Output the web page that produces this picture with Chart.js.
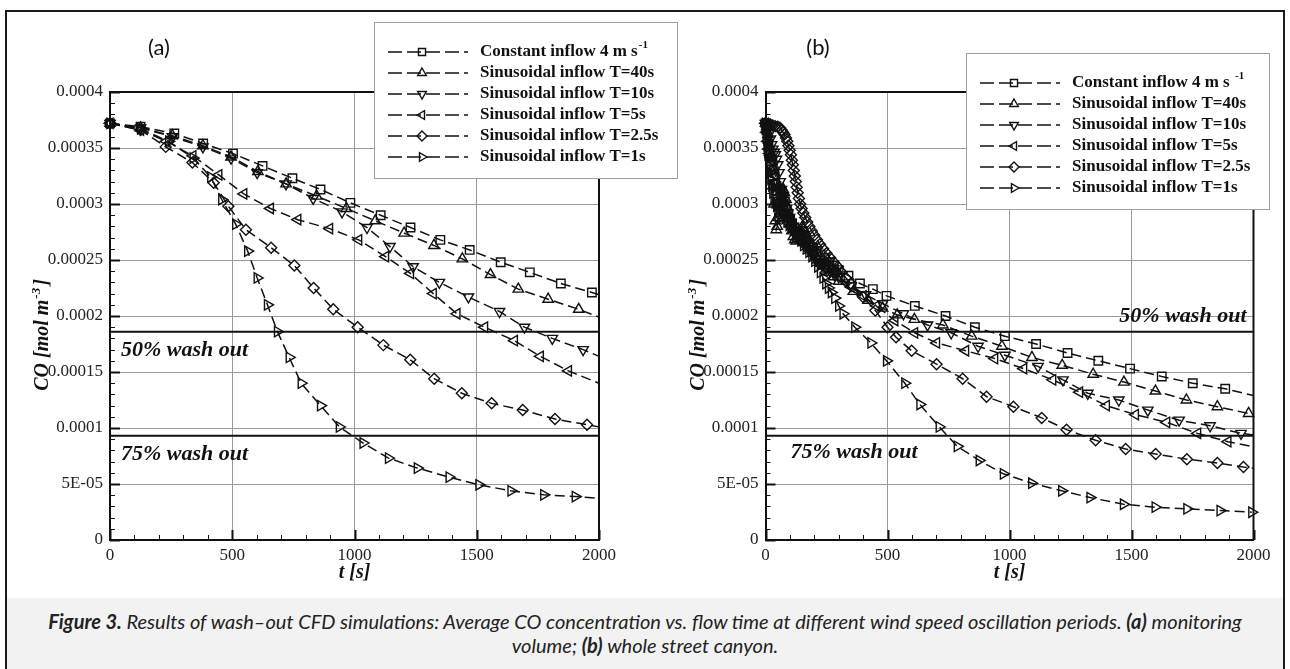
<!DOCTYPE html>
<html>
<head>
<meta charset="utf-8">
<script src="https://cdn.jsdelivr.net/npm/chart.js@4.4.1/dist/chart.umd.min.js"></script>
<style>
  body { margin: 0; width: 1290px; height: 669px; overflow: hidden; position: relative; background: #fff; }
  #frame { position: absolute; left: 5px; top: 10px; width: 1276px; height: 700px; border: 2px solid #1a1a1a; }
  #caption { position: absolute; left: 7px; top: 598px; width: 1276px; height: 80px; background: #f2f2f2; }
  #captionText { position: absolute; left: 7px; top: 609px; width: 1276px; text-align: center;
    font-family: Lato, "Open Sans", sans-serif; font-style: italic; font-size: 20px; line-height: 24px; color: #222; }
  .panelTag { position: absolute; top: 46px; transform: translate(-50%, -50%);
    font-family: Lato, "Open Sans", sans-serif; font-size: 22px; color: #111; }
  canvas { position: absolute; top: 0; }
  #chartA { left: 0; }
  #chartB { left: 640px; }
</style>
</head>
<body>
<div id="frame"></div>
<div id="caption"></div>
<div id="captionText"><b>Figure 3.</b> Results of wash–out CFD simulations: Average CO concentration vs. flow time at different wind speed oscillation periods. <b>(a)</b> monitoring<br>volume; <b>(b)</b> whole street canyon.</div>
<canvas id="chartA" width="690" height="598"></canvas>
<canvas id="chartB" width="650" height="598"></canvas>
<div class="panelTag" style="left:159px">(a)</div>
<div class="panelTag" style="left:818px">(b)</div>
<script>
// axes
const xTicks = [0, 500, 1000, 1500, 2000];
const yTicks = [0, 0.00005, 0.0001, 0.00015, 0.0002, 0.00025, 0.0003, 0.00035, 0.0004];
const yTickLabels = ['0', '5E-05', '0.0001', '0.00015', '0.0002', '0.00025', '0.0003', '0.00035', '0.0004'];
const xMinorStep = 100;
const yMinorStep = 0.00001;

const seriesLabels = ['Constant inflow 4 m s', 'Sinusoidal inflow T=40s', 'Sinusoidal inflow T=10s',
  'Sinusoidal inflow T=5s', 'Sinusoidal inflow T=2.5s', 'Sinusoidal inflow T=1s'];

// wash-out levels (initial 0.000372)
const wash50 = 0.000186;
const wash75 = 0.000093;

// (a) monitoring volume, [t, CO]
const aConstant = [[0,0.000372],[125,0.000369],[263,0.000363],[381,0.000354],[503,0.000345],[624,0.000334],[746,0.000323],[861,0.000313],[983,0.000301],[1107,0.00029],[1229,0.000279],[1351,0.000268],[1471,0.000259],[1598,0.000248],[1717,0.000239],[1844,0.000229],[1971,0.000221],[2000,0.000219]];
const aT40 = [[0,0.000372],[125,0.000368],[255,0.000361],[380,0.000352],[495,0.000342],[605,0.000329],[720,0.000318],[845,0.000307],[967,0.000296],[1085,0.000285],[1203,0.000274],[1325,0.000263],[1441,0.000251],[1556,0.000237],[1670,0.000224],[1792,0.000215],[1917,0.000206],[2000,0.000199]];
const aT10 = [[0,0.000372],[125,0.000368],[255,0.00036],[380,0.000351],[495,0.000341],[602,0.000328],[720,0.000318],[831,0.000305],[949,0.000293],[1051,0.000279],[1145,0.000262],[1240,0.000244],[1347,0.00023],[1466,0.000217],[1593,0.000204],[1695,0.00019],[1809,0.00018],[1935,0.00017],[2000,0.000164]];
const aT5 = [[0,0.000372],[125,0.000366],[230,0.000356],[339,0.000343],[445,0.000326],[547,0.000309],[656,0.000296],[768,0.000286],[898,0.000278],[1017,0.000268],[1127,0.000253],[1229,0.000238],[1322,0.00022],[1419,0.000202],[1532,0.00019],[1654,0.000178],[1760,0.000164],[1875,0.000151],[2000,0.00014]];
const aT25 = [[0,0.000372],[125,0.000366],[228,0.000351],[337,0.000337],[424,0.000319],[484,0.000298],[556,0.000277],[659,0.000261],[754,0.000245],[833,0.000225],[913,0.000206],[1013,0.00019],[1118,0.000174],[1228,0.000161],[1326,0.000144],[1439,0.000131],[1561,0.000122],[1688,0.000116],[1820,0.000108],[1951,0.000103],[2000,0.000101]];
const aT1 = [[0,0.000372],[125,0.000367],[240,0.000356],[340,0.000341],[412,0.000324],[457,0.000304],[514,0.000282],[563,0.000258],[602,0.000234],[644,0.00021],[685,0.000186],[733,0.000163],[782,0.00014],[861,0.00012],[938,0.000101],[1035,0.0000866],[1139,0.0000731],[1257,0.0000642],[1387,0.0000561],[1509,0.0000493],[1640,0.0000439],[1774,0.0000403],[1903,0.0000388],[2000,0.0000373]];

// (b) whole street canyon, [t, CO]
const bConstant = [[0,0.000372],[4,0.000366],[8,0.000358],[12,0.000351],[16,0.000344],[20,0.000338],[25,0.000331],[30,0.000325],[36,0.000318],[42,0.000312],[48,0.000307],[55,0.000302],[62,0.000298],[70,0.000294],[78,0.000291],[87,0.000288],[96,0.000285],[106,0.000282],[117,0.000279],[128,0.000276],[140,0.000273],[153,0.00027],[166,0.000267],[180,0.000264],[195,0.000261],[210,0.000258],[226,0.000255],[243,0.000252],[262,0.000248],[280,0.000245],[300,0.000241],[340,0.000236],[387,0.000229],[440,0.000224],[496,0.000218],[612,0.000209],[738,0.0002],[858,0.00019],[981,0.000182],[1109,0.000175],[1238,0.000167],[1364,0.00016],[1494,0.000153],[1624,0.000146],[1751,0.00014],[1884,0.000135],[2000,0.000129]];
const bT40 = [[0,0.000372],[5,0.000369],[10,0.000362],[15,0.000352],[20,0.000342],[25,0.00033],[30,0.000316],[35,0.0003],[40,0.000285],[44,0.000277],[48,0.00028],[53,0.000288],[58,0.000298],[63,0.000306],[68,0.000311],[73,0.000313],[78,0.00031],[84,0.000304],[90,0.000297],[96,0.000289],[102,0.000282],[108,0.000276],[114,0.000271],[120,0.000268],[126,0.000267],[132,0.000269],[138,0.000273],[144,0.000277],[150,0.000279],[156,0.000278],[162,0.000275],[170,0.00027],[178,0.000265],[186,0.000261],[195,0.000257],[204,0.000253],[214,0.00025],[225,0.000247],[236,0.000245],[248,0.000242],[262,0.000239],[280,0.000235],[300,0.000231],[360,0.000222],[420,0.000214],[480,0.000207],[540,0.000201],[610,0.000197],[727,0.000192],[845,0.000182],[969,0.000173],[1092,0.000163],[1216,0.000156],[1343,0.000148],[1469,0.000141],[1598,0.000133],[1725,0.000125],[1852,0.000119],[1980,0.000113],[2000,0.000112]];
const bT10 = [[0,0.000372],[5,0.00037],[10,0.000367],[15,0.000363],[20,0.000358],[25,0.000353],[30,0.000349],[35,0.000346],[40,0.000344],[45,0.00034],[50,0.000335],[55,0.000328],[60,0.00032],[65,0.000313],[70,0.000307],[75,0.000303],[80,0.0003],[86,0.000296],[92,0.000292],[98,0.000288],[104,0.000284],[110,0.00028],[118,0.000276],[126,0.000272],[135,0.000269],[144,0.000267],[154,0.000265],[164,0.000262],[175,0.00026],[186,0.000257],[198,0.000254],[210,0.000251],[223,0.000248],[236,0.000246],[250,0.000243],[265,0.00024],[282,0.000237],[300,0.000235],[350,0.000227],[410,0.000219],[480,0.000211],[565,0.000202],[664,0.000192],[761,0.000185],[871,0.000173],[981,0.000165],[1117,0.000155],[1219,0.000143],[1321,0.000131],[1448,0.000125],[1567,0.000116],[1695,0.000107],[1822,0.000102],[1949,0.0000952],[2000,0.0000938]];
const bT5 = [[0,0.000372],[4,0.000364],[8,0.000356],[12,0.000349],[16,0.000345],[20,0.000343],[25,0.000342],[30,0.000338],[35,0.000332],[40,0.000325],[45,0.000319],[50,0.000315],[55,0.000313],[60,0.000312],[66,0.000309],[72,0.000304],[78,0.000299],[85,0.000295],[92,0.000291],[99,0.000288],[106,0.000285],[114,0.000281],[124,0.000278],[135,0.000274],[146,0.000271],[158,0.000267],[170,0.000264],[183,0.000261],[197,0.000257],[212,0.000253],[228,0.000249],[245,0.000246],[262,0.000243],[280,0.000239],[300,0.000235],[350,0.000226],[400,0.000218],[455,0.000209],[530,0.000196],[611,0.000185],[701,0.000176],[820,0.000169],[939,0.000162],[1058,0.000153],[1177,0.000143],[1287,0.000132],[1397,0.00012],[1516,0.000112],[1644,0.000105],[1771,0.0000952],[1895,0.0000878],[2000,0.0000833]];
const bT25 = [[0,0.000372],[10,0.0003715],[20,0.000371],[30,0.00037],[40,0.0003695],[50,0.000369],[59,0.000368],[66,0.000366],[72,0.000364],[78,0.000362],[84,0.000359],[89,0.000356],[94,0.000352],[99,0.000348],[104,0.000344],[108,0.000339],[112,0.000335],[116,0.00033],[120,0.000325],[124,0.00032],[128,0.000315],[132,0.00031],[137,0.000305],[142,0.0003],[148,0.000296],[155,0.000292],[163,0.000288],[171,0.000284],[180,0.00028],[190,0.000276],[200,0.000272],[211,0.000268],[223,0.000264],[236,0.00026],[250,0.000256],[265,0.000252],[280,0.000248],[296,0.000244],[312,0.000239],[330,0.000234],[350,0.000229],[400,0.000217],[450,0.000205],[500,0.00019],[535,0.000181],[599,0.000169],[701,0.000157],[808,0.000144],[906,0.000128],[1016,0.000119],[1132,0.000109],[1234,0.0000985],[1353,0.000089],[1476,0.0000812],[1599,0.0000767],[1727,0.0000722],[1852,0.0000687],[1959,0.0000651],[2000,0.000064]];
const bT1 = [[0,0.000372],[2,0.000368],[4,0.000363],[6,0.000357],[8,0.000351],[10,0.000346],[13,0.00034],[16,0.000334],[19,0.000328],[22,0.000322],[26,0.000316],[30,0.00031],[35,0.000305],[40,0.000301],[46,0.000298],[52,0.000295],[58,0.000293],[65,0.000291],[72,0.000289],[80,0.000287],[88,0.000284],[97,0.000281],[106,0.000279],[115,0.000276],[125,0.000273],[135,0.00027],[145,0.000267],[156,0.000263],[167,0.00026],[178,0.000257],[190,0.000253],[202,0.000249],[214,0.000244],[225,0.000239],[236,0.000234],[247,0.000229],[258,0.000225],[270,0.000221],[284,0.000216],[300,0.000209],[318,0.000202],[366,0.00019],[432,0.000176],[496,0.00016],[571,0.00014],[633,0.000121],[712,0.000101],[786,0.0000836],[876,0.000071],[975,0.0000591],[1091,0.0000507],[1214,0.0000439],[1330,0.0000379],[1467,0.0000319],[1597,0.0000293],[1727,0.0000278],[1863,0.0000263],[1993,0.0000248]];

// marker per series (square, up, down, left, diamond, right)
const markers = [
  { style: 'rect', rotation: 0, radius: 6 },
  { style: 'triangle', rotation: 0, radius: 6 },
  { style: 'triangle', rotation: 180, radius: 6 },
  { style: 'triangle', rotation: 270, radius: 6 },
  { style: 'rectRot', rotation: 0, radius: 5.5 },
  { style: 'triangle', rotation: 90, radius: 6 }
];

const serif = '"Liberation Serif", "Times New Roman", serif';
const ink = '#111';

function drawMarker(ctx, m, x, y, r) {
  if (Chart.helpers && Chart.helpers.drawPoint) {
    Chart.helpers.drawPoint(ctx, { pointStyle: m.style, rotation: m.rotation, radius: r, borderWidth: ctx.lineWidth }, x, y);
  }
}

const tecplotLook = {
  id: 'tecplotLook',
  afterDraw(chart, args, o) {
    const { ctx, chartArea: a, scales: { x, y } } = chart;
    ctx.save();
    ctx.strokeStyle = ink;
    ctx.lineWidth = 2;
    ctx.beginPath();
    ctx.moveTo(a.left, a.top);
    ctx.lineTo(a.right, a.top);
    ctx.lineTo(a.right, a.bottom);
    ctx.stroke();

    // inward ticks on bottom and left axes
    for (let v = x.min; v <= x.max + 0.001; v += xMinorStep) {
      const major = xTicks.includes(Math.round(v));
      const px = Math.round(x.getPixelForValue(v)) + 0.5;
      ctx.lineWidth = major ? 2 : 1;
      ctx.beginPath();
      ctx.moveTo(px, a.bottom);
      ctx.lineTo(px, a.bottom - (major ? 10 : 5));
      ctx.stroke();
    }
    const nMinor = Math.round((y.max - y.min) / yMinorStep);
    for (let k = 0; k <= nMinor; k++) {
      const major = k % 5 === 0;
      const py = Math.round(y.getPixelForValue(y.min + k * yMinorStep)) + 0.5;
      ctx.lineWidth = major ? 2 : 1;
      ctx.beginPath();
      ctx.moveTo(a.left, py);
      ctx.lineTo(a.left + (major ? 10 : 5), py);
      ctx.stroke();
    }

    // wash-out labels
    ctx.fillStyle = ink;
    ctx.font = 'bold italic 22px ' + serif;
    ctx.textBaseline = 'middle';
    o.washLabels.forEach(w => {
      const py = y.getPixelForValue(w.value) + w.dy;
      if (w.align === 'right') {
        ctx.textAlign = 'right';
        ctx.fillText(w.text, a.right - w.dx, py);
      } else {
        ctx.textAlign = 'left';
        ctx.fillText(w.text, a.left + w.dx, py);
      }
    });

    // axis titles
    ctx.font = 'bold italic 20px ' + serif;
    ctx.textAlign = 'center';
    ctx.fillText('t [s]', (a.left + a.right) / 2, a.bottom + 33);

    ctx.save();
    ctx.translate(a.left - 69, (a.top + a.bottom) / 2 + 19);
    ctx.rotate(-Math.PI / 2);
    const big = 'bold italic 20px ' + serif, small = 'bold italic 13px ' + serif;
    ctx.font = big;
    const w1 = ctx.measureText('CO [mol m').width, w3 = ctx.measureText(']').width;
    ctx.font = small;
    const w2 = ctx.measureText('-3').width;
    const x0 = -(w1 + w2 + w3 + 3) / 2;
    ctx.textAlign = 'left';
    ctx.textBaseline = 'alphabetic';
    ctx.font = big;
    ctx.fillText('CO [mol m', x0, 7);
    ctx.font = small;
    ctx.fillText('-3', x0 + w1 + 1, -1);
    ctx.font = big;
    ctx.fillText(']', x0 + w1 + w2 + 3, 7);
    ctx.restore();

    // legend box
    const b = o.box;
    ctx.fillStyle = '#fff';
    ctx.fillRect(b.x, b.y, b.w, b.h);
    ctx.strokeStyle = '#a0a0a0';
    ctx.lineWidth = 1;
    ctx.strokeRect(b.x + 0.5, b.y + 0.5, b.w, b.h);
    chart.data.datasets.forEach((ds, i) => {
      if (ds.refLine) return;
      const ry = b.y + 30 + i * 21;
      ctx.strokeStyle = ink;
      ctx.lineWidth = 1.5;
      ctx.setLineDash([14, 5]);
      ctx.beginPath();
      ctx.moveTo(b.x + 14, ry);
      ctx.lineTo(b.x + 94, ry);
      ctx.stroke();
      ctx.setLineDash([]);
      ctx.fillStyle = 'rgba(0,0,0,0)';
      ctx.lineWidth = 1.4;
      drawMarker(ctx, markers[i], b.x + 48, ry, 5);
      ctx.fillStyle = ink;
      ctx.font = 'bold 17px ' + serif;
      ctx.textAlign = 'left';
      ctx.textBaseline = 'middle';
      ctx.fillText(ds.label, b.x + 106, ry);
      if (i === 0) {
        const tw = ctx.measureText(ds.label + o.supGap).width;
        ctx.font = 'bold 11px ' + serif;
        ctx.fillText('-1', b.x + 106 + tw + 1, ry - 7);
      }
    });
    ctx.restore();
  }
};

function buildChart(id, series, pad, yWidth, opts) {
  const datasets = series.map((pts, i) => ({
    label: seriesLabels[i],
    data: pts.map(p => ({ x: p[0], y: p[1] })),
    showLine: true,
    borderColor: ink,
    borderWidth: 1.5,
    borderDash: [10, 5],
    pointStyle: markers[i].style,
    pointRotation: markers[i].rotation,
    pointRadius: c => (c.raw && c.raw.x >= 2000 ? 0 : markers[i].radius),
    pointBorderColor: ink,
    pointBackgroundColor: 'rgba(0,0,0,0)',
    pointBorderWidth: 1.4,
    clip: false
  }));
  [wash50, wash75].forEach(v => datasets.push({
    refLine: true,
    data: [{ x: 0, y: v }, { x: 2000, y: v }],
    showLine: true,
    borderColor: ink,
    borderWidth: 2,
    pointRadius: 0
  }));

  return new Chart(document.getElementById(id), {
    type: 'scatter',
    data: { datasets },
    options: {
      responsive: false,
      animation: false,
      devicePixelRatio: 1,
      events: [],
      layout: { padding: pad },
      scales: {
        x: {
          type: 'linear', min: 0, max: 2000,
          afterBuildTicks: s => { s.ticks = xTicks.map(v => ({ value: v })); },
          afterFit: s => { s.height = 30; },
          grid: { color: '#9a9a9a', lineWidth: 1, drawTicks: false },
          border: { display: true, color: ink, width: 2 },
          ticks: { padding: 5, autoSkip: false, maxRotation: 0, color: '#222',
            font: { family: serif, size: 17 }, callback: v => String(v) }
        },
        y: {
          type: 'linear', min: 0, max: 0.0004,
          afterBuildTicks: s => { s.ticks = yTicks.map(v => ({ value: v })); },
          afterFit: s => { s.width = yWidth; },
          grid: { color: '#9a9a9a', lineWidth: 1, drawTicks: false },
          border: { display: true, color: ink, width: 2 },
          ticks: { padding: 7, color: '#222', font: { family: serif, size: 17 },
            callback: (v, i) => yTickLabels[i] }
        }
      },
      plugins: {
        legend: { display: false },
        tooltip: { enabled: false },
        tecplotLook: opts
      }
    },
    plugins: [tecplotLook]
  });
}

buildChart('chartA', [aConstant, aT40, aT10, aT5, aT25, aT1],
  { left: 20, top: 92, right: 91, bottom: 28 }, 90, {
    box: { x: 374, y: 22, w: 303, h: 156 },
    supGap: '',
    washLabels: [
      { text: '50% wash out', value: wash50, dx: 11, dy: 19, align: 'left' },
      { text: '75% wash out', value: wash75, dx: 11, dy: 18, align: 'left' }
    ]
  });

buildChart('chartB', [bConstant, bT40, bT10, bT5, bT25, bT1],
  { left: 35.5, top: 92, right: 36.5, bottom: 28 }, 90, {
    box: { x: 326, y: 53, w: 303, h: 156 },
    supGap: ' ',
    washLabels: [
      { text: '50% wash out', value: wash50, dx: 7, dy: -15, align: 'right' },
      { text: '75% wash out', value: wash75, dx: 25, dy: 16, align: 'left' }
    ]
  });
</script>
</body>
</html>
